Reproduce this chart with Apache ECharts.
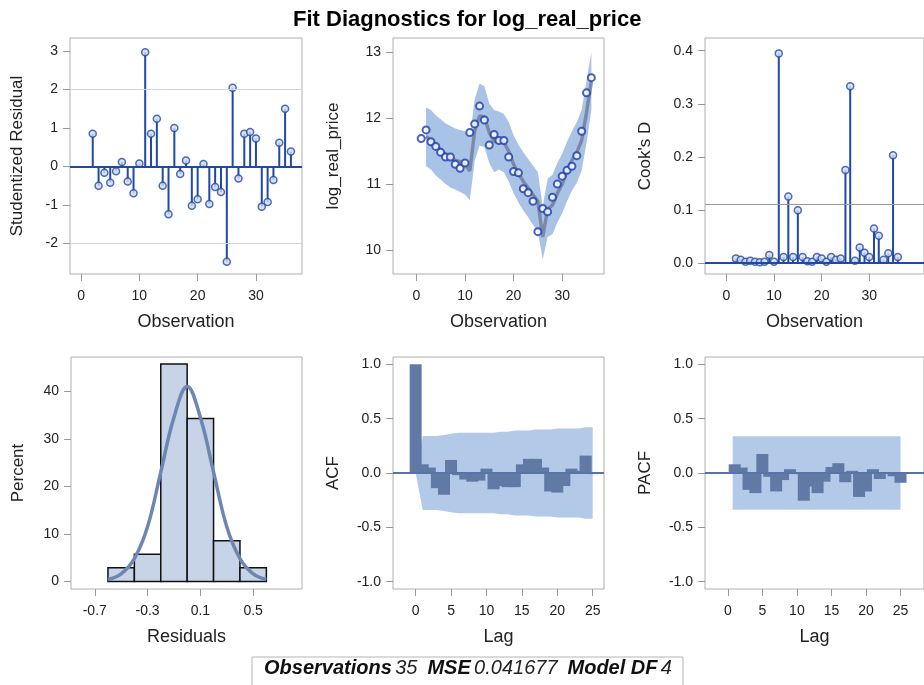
<!DOCTYPE html>
<html>
<head>
<meta charset="utf-8">
<title>Fit Diagnostics for log_real_price</title>
<script src="https://cdn.jsdelivr.net/npm/echarts@6/dist/echarts.min.js"></script>
<style>
html, body { margin: 0; padding: 0; background: #fff; }
#chart { width: 924px; height: 685px; }
</style>
</head>
<body>
<div id="chart"></div>
<script>
// --- data ---
// observations that have a residual (obs 1 has none)
var residObs = [2, 3, 4, 5, 6, 7, 8, 9, 10, 11, 12, 13, 14, 15, 16, 17, 18, 19, 20, 21, 22, 23, 24, 25, 26, 27, 28, 29, 30, 31, 32, 33, 34, 35, 36];
var studResid = [0.85, -0.50, -0.16, -0.42, -0.12, 0.12, -0.39, -0.69, 0.08, 2.97, 0.85, 1.24, -0.50, -1.24, 1.00, -0.19, 0.16, -1.02, -0.85, 0.07, -0.97, -0.53, -0.66, -2.47, 2.05, -0.31, 0.85, 0.90, 0.73, -1.04, -0.92, -0.35, 0.62, 1.50, 0.39];
var cooksD = [0.008, 0.006, 0.002, 0.004, 0.002, 0.001, 0.002, 0.015, 0.002, 0.395, 0.011, 0.125, 0.011, 0.099, 0.011, 0.003, 0.002, 0.011, 0.008, 0.002, 0.011, 0.006, 0.008, 0.175, 0.333, 0.004, 0.029, 0.019, 0.011, 0.065, 0.051, 0.006, 0.018, 0.203, 0.011];
var cookRef = 0.114;

var priceObs = [1, 2, 3, 4, 5, 6, 7, 8, 9, 10, 11, 12, 13, 14, 15, 16, 17, 18, 19, 20, 21, 22, 23, 24, 25, 26, 27, 28, 29, 30, 31, 32, 33, 34, 35, 36];
var logPrice = [11.69, 11.82, 11.64, 11.57, 11.48, 11.41, 11.41, 11.30, 11.24, 11.32, 11.78, 11.91, 12.18, 11.97, 11.59, 11.75, 11.66, 11.66, 11.41, 11.19, 11.17, 10.93, 10.87, 10.74, 10.28, 10.63, 10.58, 10.80, 11.00, 11.12, 11.21, 11.27, 11.43, 11.80, 12.38, 12.61];
var predicted = [11.72, 11.66, 11.58, 11.52, 11.45, 11.40, 11.36, 11.34, 11.30, 11.20, 11.80, 12.03, 12.02, 11.78, 11.64, 11.66, 11.63, 11.50, 11.30, 11.16, 11.04, 10.94, 10.84, 10.74, 10.20, 10.62, 10.68, 10.86, 11.00, 11.20, 11.36, 11.48, 11.66, 12.08, 12.55];
var upperCL = [12.16, 12.12, 12.04, 11.98, 11.92, 11.88, 11.84, 11.82, 11.80, 11.70, 12.28, 12.52, 12.48, 12.22, 12.12, 12.10, 12.06, 11.94, 11.74, 11.60, 11.48, 11.38, 11.28, 11.18, 10.66, 11.08, 11.14, 11.32, 11.46, 11.64, 11.80, 11.94, 12.12, 12.56, 13.00];
var lowerCL = [11.27, 11.22, 11.13, 11.07, 11.00, 10.95, 10.92, 10.88, 10.84, 10.76, 11.35, 11.58, 11.56, 11.32, 11.18, 11.22, 11.18, 11.04, 10.86, 10.72, 10.60, 10.50, 10.38, 10.28, 9.86, 10.20, 10.24, 10.42, 10.56, 10.74, 10.90, 11.02, 11.20, 11.62, 12.12];

var binMid = [-0.5, -0.3, -0.1, 0.1, 0.3, 0.5];
var binWidth = 0.2;
var binPct = [2.86, 5.71, 45.71, 34.29, 8.57, 2.86];
var curveX = [-0.6, -0.5, -0.4, -0.3, -0.2, -0.1, 0.0, 0.1, 0.2, 0.3, 0.4, 0.5, 0.6];
var curveY = [0.4, 1.6, 4.8, 11.5, 23.0, 34.5, 41.0, 34.5, 23.0, 11.5, 4.8, 1.6, 0.4];

var lags = [0, 1, 2, 3, 4, 5, 6, 7, 8, 9, 10, 11, 12, 13, 14, 15, 16, 17, 18, 19, 20, 21, 22, 23, 24, 25];
var acf = [1.0, 0.08, 0.05, -0.14, -0.20, 0.12, -0.02, -0.06, -0.08, -0.07, 0.04, -0.15, -0.12, -0.13, -0.13, 0.08, 0.13, 0.13, 0.05, -0.17, -0.18, -0.12, 0.04, 0.02, 0.16, -0.01];
var acfBand = [0, 0.34, 0.34, 0.34, 0.35, 0.36, 0.37, 0.37, 0.37, 0.37, 0.37, 0.37, 0.38, 0.38, 0.39, 0.39, 0.39, 0.40, 0.40, 0.40, 0.41, 0.41, 0.41, 0.41, 0.42, 0.42];
var pacfLags = [1, 2, 3, 4, 5, 6, 7, 8, 9, 10, 11, 12, 13, 14, 15, 16, 17, 18, 19, 20, 21, 22, 23, 24, 25];
var pacf = [0.08, 0.05, -0.155, -0.185, 0.175, -0.035, -0.17, -0.065, 0.035, -0.01, -0.255, -0.125, -0.185, -0.08, 0.055, 0.09, -0.085, 0.02, -0.22, -0.17, 0.035, -0.055, 0.0, -0.03, -0.09];
var pacfBandX = [0.7, 25];
var pacfBand = [0.338, 0.338];

// footer statistics
var footLabels = ['Observations', 'MSE', 'Model DF'];
var footValues = ['35', '0.041677', '4'];

// --- helpers ---
var FONT = 'Liberation Sans, Arial, sans-serif';
var TXT = '#222';
var BLUE = '#1f48a8';

function pairs(xs, ys) {
  return xs.map(function (x, i) { return [x, ys[i]]; });
}

function xAxis(gi, min, max, ticks, name, fmt) {
  return {
    type: 'value', gridIndex: gi, min: min, max: max,
    name: name, nameLocation: 'middle', nameGap: 39,
    nameTextStyle: { fontSize: 18, color: TXT, fontFamily: FONT },
    axisLine: { show: false, onZero: false },
    axisTick: { show: true, inside: false, customValues: ticks, length: 7, lineStyle: { color: '#999' } },
    axisLabel: { customValues: ticks, fontSize: 14, color: TXT, fontFamily: FONT, margin: 15, formatter: fmt },
    splitLine: { show: false }
  };
}

function yAxis(gi, min, max, ticks, name, gap, fmt) {
  return {
    type: 'value', gridIndex: gi, min: min, max: max,
    name: name, nameLocation: 'middle', nameGap: gap,
    nameTextStyle: { fontSize: 17, color: TXT, fontFamily: FONT },
    axisLine: { show: false, onZero: false },
    axisTick: { show: true, inside: false, customValues: ticks, length: 7, lineStyle: { color: '#999' } },
    axisLabel: { customValues: ticks, fontSize: 14, color: TXT, fontFamily: FONT, margin: 12, formatter: fmt },
    splitLine: { show: false }
  };
}

function oneDec(v) { return v.toFixed(1); }

function bandSeries(gi, xs, lo, hi, color) {
  return {
    type: 'custom', xAxisIndex: gi, yAxisIndex: gi, silent: true, z: 1,
    data: xs.map(function (x, i) { return [x, lo[i], hi[i]]; }),
    encode: { x: 0, y: [1, 2] },
    renderItem: function (params, api) {
      if (params.dataIndex !== 0) return;
      var pts = [];
      for (var i = 0; i < xs.length; i++) pts.push(api.coord([xs[i], hi[i]]));
      for (var j = xs.length - 1; j >= 0; j--) pts.push(api.coord([xs[j], lo[j]]));
      return { type: 'polygon', shape: { points: pts }, style: { fill: color } };
    }
  };
}

function refLines(items) {
  return {
    silent: true, symbol: 'none', label: { show: false }, animation: false,
    data: items.map(function (it) {
      return { yAxis: it[0], lineStyle: { color: it[1], width: it[2], type: 'solid' } };
    })
  };
}

var neg = function (a) { return a.map(function (v) { return -v; }); };

var grids = [
  { left: 70, top: 38, width: 232, height: 236 },
  { left: 393, top: 38, width: 211, height: 236 },
  { left: 705, top: 38, width: 224, height: 236 },
  { left: 71, top: 357, width: 231, height: 232 },
  { left: 393, top: 357, width: 211, height: 232 },
  { left: 705, top: 357, width: 224, height: 232 }
].map(function (g) {
  g.show = true; g.borderColor = '#aeaeae'; g.borderWidth = 1; g.backgroundColor = 'transparent';
  return g;
});

// footer line: bold-italic label, italic value, groups spaced apart
var footText = footLabels.map(function (lab, i) {
  return '{b|' + lab + '} {n|' + footValues[i] + '}';
}).join('   ');

var option = {
  animation: false,
  backgroundColor: '#fff',
  textStyle: { fontFamily: FONT },
  title: {
    text: 'Fit Diagnostics for log_real_price', left: 288, top: 4,
    textStyle: { fontSize: 22, fontWeight: 'bold', color: '#000', fontFamily: FONT }
  },
  grid: grids,
  xAxis: [
    xAxis(0, -1.9, 37.9, [0, 10, 20, 30], 'Observation'),
    xAxis(1, -4.8, 38.6, [0, 10, 20, 30], 'Observation'),
    xAxis(2, -4.5, 41.5, [0, 10, 20, 30], 'Observation'),
    xAxis(3, -0.88, 0.87, [-0.7, -0.3, 0.1, 0.5], 'Residuals', oneDec),
    xAxis(4, -3.2, 26.6, [0, 5, 10, 15, 20, 25], 'Lag'),
    xAxis(5, -3.3, 28.4, [0, 5, 10, 15, 20, 25], 'Lag')
  ],
  yAxis: [
    yAxis(0, -2.79, 3.34, [-2, -1, 0, 1, 2, 3], 'Studentized Residual', 44),
    yAxis(1, 9.64, 13.21, [10, 11, 12, 13], 'log_real_price', 51),
    yAxis(2, -0.021, 0.424, [0, 0.1, 0.2, 0.3, 0.4], "Cook's D", 51, oneDec),
    yAxis(3, -1.6, 47.2, [0, 10, 20, 30, 40], 'Percent', 44),
    yAxis(4, -1.067, 1.067, [-1, -0.5, 0, 0.5, 1], 'ACF', 51, oneDec),
    yAxis(5, -1.067, 1.067, [-1, -0.5, 0, 0.5, 1], 'PACF', 51, oneDec)
  ],
  series: [
    // studentized residuals
    {
      type: 'bar', xAxisIndex: 0, yAxisIndex: 0, barWidth: 2,
      data: pairs(residObs, studResid), itemStyle: { color: BLUE },
      markLine: refLines([[0, BLUE, 2], [2, '#d6d6d6', 1], [-2, '#d6d6d6', 1]])
    },
    {
      type: 'scatter', xAxisIndex: 0, yAxisIndex: 0, symbol: 'circle', symbolSize: 7, z: 3,
      data: pairs(residObs, studResid),
      itemStyle: { color: '#d3dcf1', borderColor: BLUE, borderWidth: 1.5 }
    },
    // fit plot
    bandSeries(1, residObs, lowerCL, upperCL, '#a9c3e6'),
    {
      type: 'line', xAxisIndex: 1, yAxisIndex: 1, showSymbol: false, z: 2,
      data: pairs(residObs, predicted),
      lineStyle: { color: '#737f9c', width: 3.5, opacity: 0.85 }
    },
    {
      type: 'scatter', xAxisIndex: 1, yAxisIndex: 1, symbol: 'emptyCircle', symbolSize: 7, z: 3,
      data: pairs(priceObs, logPrice),
      itemStyle: { color: '#1a3cae', borderColor: '#1a3cae', borderWidth: 1.6 }
    },
    // Cook's D
    {
      type: 'bar', xAxisIndex: 2, yAxisIndex: 2, barWidth: 2,
      data: pairs(residObs, cooksD), itemStyle: { color: BLUE },
      markLine: refLines([[0, BLUE, 2], [cookRef, '#9a9a9a', 1]])
    },
    {
      type: 'scatter', xAxisIndex: 2, yAxisIndex: 2, symbol: 'circle', symbolSize: 7, z: 3,
      data: pairs(residObs, cooksD),
      itemStyle: { color: '#d3dcf1', borderColor: BLUE, borderWidth: 1.5 }
    },
    // residual histogram
    {
      type: 'custom', xAxisIndex: 3, yAxisIndex: 3, z: 2,
      data: pairs(binMid, binPct),
      renderItem: function (params, api) {
        var x = api.value(0), y = api.value(1);
        var p0 = api.coord([x - binWidth / 2, y]);
        var p1 = api.coord([x + binWidth / 2, 0]);
        return {
          type: 'rect',
          shape: { x: p0[0], y: p0[1], width: p1[0] - p0[0], height: p1[1] - p0[1] },
          style: { fill: '#c7d3e7', stroke: '#111', lineWidth: 1.5 }
        };
      }
    },
    {
      type: 'line', xAxisIndex: 3, yAxisIndex: 3, showSymbol: false, smooth: 0.4, z: 3,
      data: pairs(curveX, curveY),
      lineStyle: { color: '#6d87b3', width: 3.5 }
    },
    // ACF
    bandSeries(4, lags, neg(acfBand), acfBand, '#b2c9e8'),
    {
      type: 'bar', xAxisIndex: 4, yAxisIndex: 4, barWidth: 12, z: 2,
      data: pairs(lags, acf), itemStyle: { color: '#6079a5' },
      markLine: refLines([[0, '#5873a6', 2]])
    },
    // PACF
    bandSeries(5, pacfBandX, neg(pacfBand), pacfBand, '#b2c9e8'),
    {
      type: 'bar', xAxisIndex: 5, yAxisIndex: 5, barWidth: 12, z: 2,
      data: pairs(pacfLags, pacf), itemStyle: { color: '#6079a5' },
      markLine: refLines([[0, '#5873a6', 2]])
    }
  ],
  graphic: [
    {
      type: 'rect', shape: { x: 252, y: 657, width: 431, height: 32 },
      style: { fill: '#fff', stroke: '#b4b4b4', lineWidth: 1 }
    },
    {
      type: 'text', x: 468, y: 668,
      style: {
        text: footText, align: 'center', verticalAlign: 'middle',
        rich: {
          b: { fontSize: 20, fontWeight: 'bold', fontStyle: 'italic', fill: '#111', fontFamily: FONT },
          n: { fontSize: 20, fontStyle: 'italic', fill: '#222', fontFamily: FONT }
        }
      }
    }
  ]
};

var chart = echarts.init(document.getElementById('chart'));
chart.setOption(option);
</script>
</body>
</html>
